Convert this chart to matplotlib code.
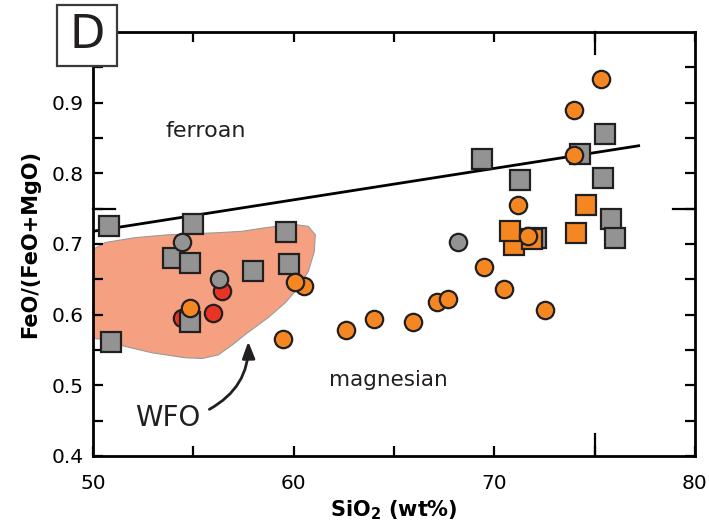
import matplotlib.pyplot as plt
from matplotlib.patches import Polygon, Rectangle

# ferroan / magnesian boundary
line_x = [50.0, 77.2]
line_y = [0.718, 0.839]

# WFO field outline
wfo_x = [49.8, 49.8, 50.6, 52.1, 53.74, 56.24, 57.44, 58.59, 59.93, 60.73, 61.08, 61.03,
         60.73, 60.23, 59.59, 58.74, 57.59, 56.94, 56.24, 55.44, 54.59, 52.95, 51.6, 50.45]
wfo_y = [0.567, 0.689, 0.702, 0.709, 0.713, 0.716, 0.718, 0.723, 0.728, 0.725, 0.713, 0.689,
         0.661, 0.638, 0.617, 0.596, 0.572, 0.557, 0.543, 0.538, 0.539, 0.546, 0.555, 0.565]

red_circ_x = [56.42, 55.96, 54.43]
red_circ_y = [0.634, 0.602, 0.595]

gray_sq_x = [50.8, 54.98, 53.98, 54.84, 57.99, 59.6, 59.77, 54.84, 50.9,
             69.4, 71.3, 74.28, 75.5, 75.4, 75.8, 76.0, 72.1]
gray_sq_y = [0.726, 0.728, 0.680, 0.673, 0.662, 0.717, 0.672, 0.590, 0.561,
             0.820, 0.790, 0.827, 0.855, 0.793, 0.735, 0.708, 0.709]

gray_circ_x = [54.46, 56.3, 68.2]
gray_circ_y = [0.703, 0.650, 0.703]

orange_sq_x = [71.0, 70.8, 71.9, 74.6, 74.1]
orange_sq_y = [0.699, 0.718, 0.707, 0.755, 0.715]

orange_circ_x = [75.3, 74.0, 73.98, 71.2, 71.7, 69.5, 70.47, 72.55, 67.16, 67.7,
                 65.96, 64.0, 62.6, 59.45, 60.5, 60.05, 54.84]
orange_circ_y = [0.934, 0.889, 0.826, 0.755, 0.711, 0.667, 0.636, 0.606, 0.618, 0.622,
                 0.590, 0.594, 0.578, 0.565, 0.641, 0.646, 0.610]

edge = '#231f20'
gray = '#939393'
orange = '#f58722'
red = '#e93325'
salmon = '#f5a080'

fig = plt.figure(figsize=(7.09, 5.28), dpi=100)
ax = fig.add_axes([0.1312, 0.1364, 0.8488, 0.803])

ax.add_patch(Polygon(list(zip(wfo_x, wfo_y)), closed=True, facecolor=salmon,
                     edgecolor='#9a9a9a', lw=0.8, zorder=1))
ax.plot(line_x, line_y, color='black', lw=2, zorder=2)

mk = dict(linestyle='none', markeredgecolor=edge, markeredgewidth=1.6)
ax.plot(red_circ_x, red_circ_y, 'o', ms=12.5, markerfacecolor=red, zorder=3, **mk)
ax.plot(gray_sq_x, gray_sq_y, 's', ms=14, markerfacecolor=gray, zorder=4, **mk)
ax.plot(gray_circ_x, gray_circ_y, 'o', ms=12.5, markerfacecolor=gray, zorder=5, **mk)
ax.plot(orange_sq_x, orange_sq_y, 's', ms=14, markerfacecolor=orange, zorder=6, **mk)
ax.plot(orange_circ_x, orange_circ_y, 'o', ms=12.5, markerfacecolor=orange, zorder=7, **mk)

ax.set_xlim(50, 80)
ax.set_ylim(0.4, 1.0)
ax.set_xticks([50, 60, 70, 80])
ax.set_xticks([55, 65, 75], minor=True)
ax.set_yticks([0.4, 0.5, 0.6, 0.7, 0.8, 0.9])
ax.set_yticks([0.45, 0.55, 0.65, 0.75, 0.85, 0.95], minor=True)
ax.set_yticklabels(['0.4', '0.5', '0.6', '0.7', '0.8', '0.9'])
ax.tick_params(which='both', direction='in', top=True, right=True,
               length=7.5, width=1.6, labelsize=14.5)
ax.tick_params(axis='x', pad=13)
ax.tick_params(axis='y', pad=7)
for s in ax.spines.values():
    s.set_linewidth(2)

# longer ticks at 75 and 0.75
xt = ax.get_xaxis_transform()
yt = ax.get_yaxis_transform()
ax.plot([75, 75], [0, 0.052], transform=xt, color='black', lw=1.6, clip_on=False)
ax.plot([75, 75], [1, 0.948], transform=xt, color='black', lw=1.6, clip_on=False)
ax.plot([0, 0.037], [0.75, 0.75], transform=yt, color='black', lw=1.6, clip_on=False)
ax.plot([1, 0.963], [0.75, 0.75], transform=yt, color='black', lw=1.6, clip_on=False)

ax.set_xlabel(r'SiO$_\mathbf{2}$ (wt%)', fontsize=15, fontweight='bold', labelpad=4)
ax.set_ylabel('FeO/(FeO+MgO)', fontsize=15, fontweight='bold', labelpad=8)

ax.text(55.64, 0.86, 'ferroan', fontsize=16, ha='center', va='center', color='#231f20')
ax.text(64.73, 0.508, 'magnesian', fontsize=15.5, ha='center', va='center', color='#231f20')
ax.text(53.74, 0.454, 'WFO', fontsize=20, ha='center', va='center', color='#231f20')
ax.annotate('', xy=(57.74, 0.562), xytext=(55.8, 0.466),
            arrowprops=dict(arrowstyle='-|>,head_length=1.0,head_width=0.38', color='#231f20',
                            lw=2, shrinkA=0, shrinkB=0,
                            connectionstyle='arc3,rad=0.3'))

# panel letter
fig.patches.append(Rectangle((0.0804, 0.875), 0.0846, 0.1155, transform=fig.transFigure,
                             facecolor='white', edgecolor='#3a3a3a', lw=1.6, zorder=10))
fig.text(0.1227, 0.9328, 'D', fontsize=33, ha='center', va='center', color='#231f20', zorder=11)

fig.savefig('out.png', dpi=100)
